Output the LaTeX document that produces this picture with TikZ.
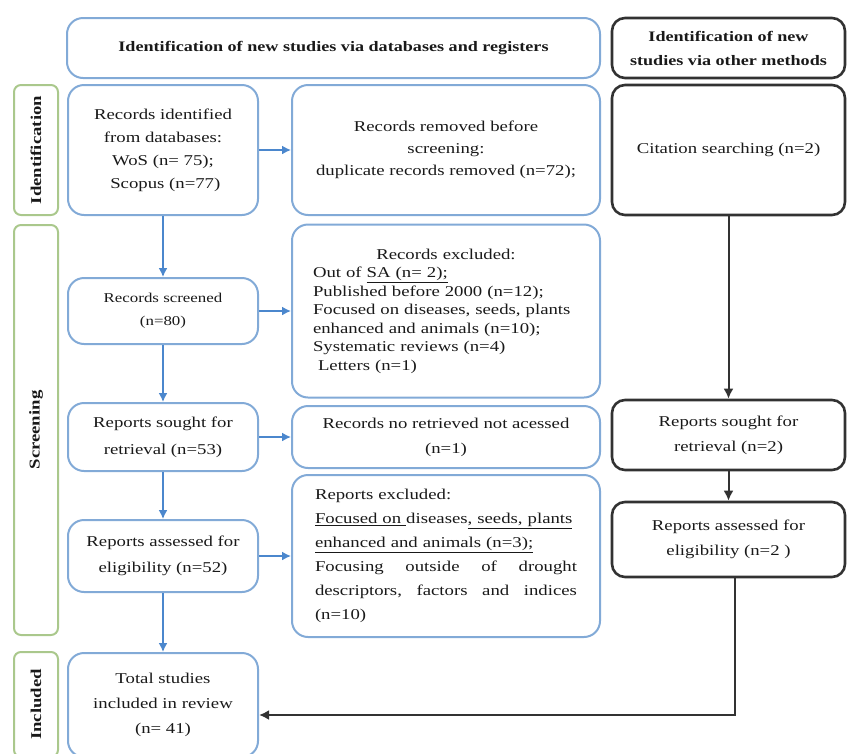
\documentclass[tikz,border=0pt]{standalone}
\usepackage{fontspec}
\setmainfont{Liberation Serif}[FakeStretch=1.25]
\usetikzlibrary{arrows.meta,positioning,calc}
\definecolor{boxblue}{RGB}{130,170,215}
\definecolor{arrowblue}{RGB}{75,135,205}
\definecolor{phasegreen}{RGB}{170,200,140}
\definecolor{boxdark}{RGB}{50,50,50}
\begin{document}
\begin{tikzpicture}[x=1pt,y=-1pt,
  every node/.style={align=center,text=black!90,font=\fontsize{15}{25}\selectfont},
  bluebox/.style={draw=boxblue,line width=2pt,rounded corners=16pt,inner sep=0pt},
  darkbox/.style={draw=boxdark,line width=2.6pt,rounded corners=13pt,inner sep=0pt},
  phase/.style={draw=phasegreen,line width=2pt,rounded corners=7pt,rotate=90,inner sep=0pt,
    minimum height=44pt,font=\fontsize{15}{18}\selectfont\bfseries},
  flow/.style={-{Latex[length=9pt,width=9pt]},draw=arrowblue,line width=1.6pt},
  flowdark/.style={-{Latex[length=10pt,width=10pt]},draw=boxdark,line width=2pt}]

  \clip (0,0) rectangle (849,753);

  % Headers
  \node[bluebox,minimum width=533pt,minimum height=60pt,font=\fontsize{14.5}{18}\selectfont\bfseries]
    (dbhead) at (333.5,48) {Identification of new studies via databases and registers};
  \node[darkbox,minimum width=233pt,minimum height=60pt,font=\fontsize{14.5}{24}\selectfont\bfseries]
    (otherhead) at (728.5,48) {Identification of new\\studies via other methods};

  % Phases
  \node[phase,minimum width=130pt] (identphase) at (36,150) {Identification};
  \node[phase,minimum width=410pt] (screenphase) at (36,430) {Screening};
  \node[phase,minimum width=105pt] (inclphase) at (36,704.5) {Included};

  % Databases and registers
  \node[bluebox,minimum width=190pt,minimum height=130pt,font=\fontsize{15}{23}\selectfont]
    (identified) at (163,150) {Records identified\\from databases:\\WoS (n= 75);\\ \ Scopus (n=77)};
  \node[bluebox,minimum width=308pt,minimum height=130pt,font=\fontsize{15}{22}\selectfont]
    (removed) at (446,150) {Records removed before\\screening:\\duplicate records removed (n=72);};
  \node[bluebox,minimum width=190pt,minimum height=66pt,font=\fontsize{13.5}{23}\selectfont]
    (screened) at (163,311) {Records screened\\(n=80)};
  \node[bluebox,minimum width=308pt,minimum height=173pt,text width=266pt,align=left,
    font=\fontsize{15}{18.5}\selectfont] (excluded) at (446,311)
    {\leavevmode\hbox to\hsize{\hfil Records excluded:\hfil}\\
     Out of \underline{SA (n= 2);}\\
     Published before 2000 (n=12);\\
     Focused on diseases, seeds, plants\\
     enhanced and animals (n=10);\\
     Systematic reviews (n=4)\\
     \ Letters (n=1)};
  \node[bluebox,minimum width=190pt,minimum height=68pt,font=\fontsize{15}{27}\selectfont]
    (sought) at (163,437) {Reports sought for\\retrieval (n=53)};
  \node[bluebox,minimum width=308pt,minimum height=62pt]
    (noretrieved) at (446,437) {Records no retrieved not acessed\\(n=1)};
  \node[bluebox,minimum width=190pt,minimum height=72pt,font=\fontsize{15}{26}\selectfont]
    (assessed) at (163,556) {Reports assessed for\\eligibility (n=52)};
  \node[bluebox,minimum width=308pt,minimum height=162pt,text width=262pt,align=left,
    font=\fontsize{15}{24}\selectfont] (repexcluded) at (446,556)
    {Reports excluded:\\
     \underline{Focused on }diseases\underline{, seeds, plants}\\
     \underline{enhanced and animals (n=3);}\\
     \leavevmode\hbox to\hsize{Focusing\hfill outside\hfill of\hfill drought}\\
     \leavevmode\hbox to\hsize{descriptors,\hfill factors\hfill and\hfill indices}\\
     (n=10)};
  \node[bluebox,minimum width=190pt,minimum height=104pt]
    (total) at (163,705) {Total studies\\included in review\\(n= 41)};

  % Other methods
  \node[darkbox,minimum width=233pt,minimum height=130pt] (citation) at (728.5,150) {Citation searching (n=2)};
  \node[darkbox,minimum width=233pt,minimum height=70pt] (soughtother) at (728.5,435) {Reports sought for\\retrieval (n=2)};
  \node[darkbox,minimum width=233pt,minimum height=75pt] (assessedother) at (728.5,539.5) {Reports assessed for\\eligibility (n=2 )};

  % Flow
  \draw[flow] (identified) -- (removed);
  \draw[flow] (identified) -- (screened);
  \draw[flow] (screened) -- (excluded);
  \draw[flow] (screened) -- (sought);
  \draw[flow] (sought) -- (noretrieved);
  \draw[flow] (sought) -- (assessed);
  \draw[flow] (assessed) -- (repexcluded);
  \draw[flow] (assessed) -- (total);

  \draw[flowdark] (citation) -- (soughtother);
  \draw[flowdark] (soughtother) -- (assessedother);
  \draw[flowdark] ([xshift=6pt]assessedother.south) |- ($(total.east)+(0,10)$);

\end{tikzpicture}
\end{document}
